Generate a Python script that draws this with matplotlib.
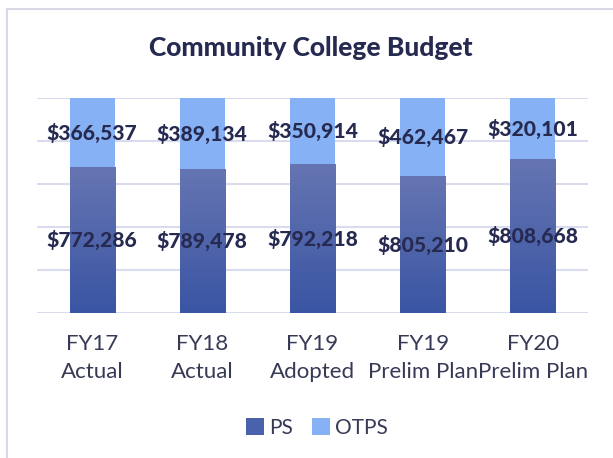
import matplotlib
matplotlib.use("Agg")
import matplotlib.pyplot as plt
import numpy as np
from matplotlib.patches import Rectangle, Patch
from matplotlib.colors import LinearSegmentedColormap

categories = ["FY17\nActual", "FY18\nActual", "FY19\nAdopted", "FY19\nPrelim Plan", "FY20\nPrelim Plan"]
ps = [772286, 789478, 792218, 805210, 808668]
otps = [366537, 389134, 350914, 462467, 320101]

plt.rcParams['font.family'] = ['Lato', 'DejaVu Sans']

W, H = 613, 458
fig = plt.figure(figsize=(W/100, H/100), dpi=100)
fig.patch.set_facecolor('white')

fig.patches.append(Rectangle((7/W, -0.05), 1.2, 1 - 9/H + 0.05, transform=fig.transFigure,
                             fill=False, edgecolor='#D9D9E6', linewidth=1.5))

ax = fig.add_axes([37/W, (H-313)/H, 551/W, 215/H])
ps_arr = np.array(ps, float)
ot_arr = np.array(otps, float)
tot = ps_arr + ot_arr
ps_frac = ps_arr / tot
ot_frac = ot_arr / tot
x = np.arange(len(categories))
bw = 0.41

for gy in np.linspace(0, 1, 6):
    ax.axhline(gy, color='#D9DBEE', linewidth=1.5, zorder=0)

cmap = LinearSegmentedColormap.from_list('g', ['#3A55A3', '#6675B2'])
grad = np.linspace(0, 1, 256).reshape(-1, 1)
bars_ps = ax.bar(x, ps_frac, bw, color='#4A62AB', zorder=2)
for b in bars_ps:
    x0, y0, w, h = b.get_x(), b.get_y(), b.get_width(), b.get_height()
    im = ax.imshow(grad, extent=[x0, x0 + w, y0, y0 + h], origin='lower', aspect='auto',
                   cmap=cmap, zorder=3)
    im.set_clip_path(b)
bars_ot = ax.bar(x, ot_frac, bw, bottom=ps_frac, color='#86B1F4', zorder=2)
ax.set_xlim(-0.5, len(categories) - 0.5)
ax.set_ylim(0, 1)

lab_color = '#262A50'
for i in range(len(categories)):
    ax.text(x[i], ps_frac[i] / 2, f"${ps[i]:,}", ha='center', va='center',
            fontsize=15.2, fontweight=900, color=lab_color, zorder=5)
    ax.text(x[i], ps_frac[i] + ot_frac[i] / 2, f"${otps[i]:,}", ha='center', va='center',
            fontsize=15.2, fontweight=900, color=lab_color, zorder=5)

ax.set_xticks(x)
ax.set_xticklabels(categories, fontsize=16, color='#363A55', linespacing=1.5)
ax.tick_params(axis='x', length=0, pad=15)
ax.set_yticks([])
for s in ax.spines.values():
    s.set_visible(False)

fig.text(311/W, 1 - 48/H, "Community College Budget", ha='center', va='center',
         fontsize=19, fontweight=900, color='#262A50')

handles = [Patch(facecolor='#4A62AB', edgecolor='none'), Patch(facecolor='#86B1F4', edgecolor='none')]
fig.legend(handles, ['PS', 'OTPS'], loc='center', bbox_to_anchor=(317/W, 1 - 428/H), ncol=2,
           frameon=False, fontsize=15, handlelength=0.85, handleheight=0.85,
           handletextpad=0.25, columnspacing=0.9, labelcolor='#363A55')

fig.savefig('out.png', dpi=100, facecolor='white')
